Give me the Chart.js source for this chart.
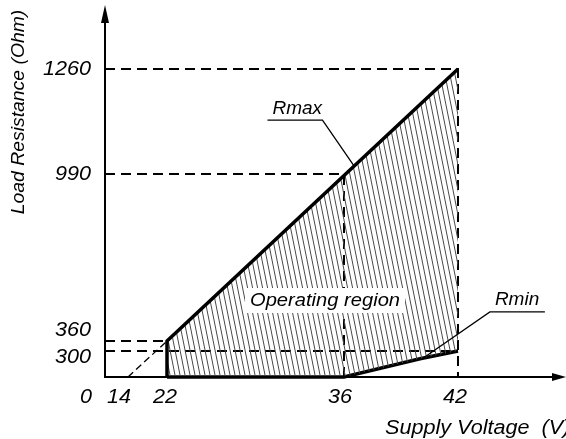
<!DOCTYPE html>
<html>
<head>
<meta charset="utf-8">
<script src="https://cdn.jsdelivr.net/npm/chart.js@4/dist/chart.umd.min.js"></script>
<style>
  html, body { margin: 0; background: #fff; }
  canvas { display: block; }
</style>
</head>
<body>
<canvas id="chart" width="566" height="439"></canvas>
<script>
"use strict";

/* supply voltage (V) vs load resistance (Ohm) */
const rmaxVolt = [22, 22, 42];
const rmaxOhm  = [0, 360, 1260];
const rminVolt = [22, 36, 40, 42];
const rminOhm  = [0, 0, 210, 300];

// dashed guides
const g1260Volt = [0, 42, 42];
const g1260Ohm  = [1260, 1260, 0];
const g990Volt  = [0, 36, 36];
const g990Ohm   = [990, 990, 0];
const g360Volt  = [0, 22];
const g360Ohm   = [360, 360];
const g300Volt  = [0, 42];
const g300Ohm   = [300, 300];
const extVolt   = [14, 22];   // Rmax extended back to the axis
const extOhm    = [0, 360];

const voltTicks = [0, 14, 22, 36, 42];
const ohmTicks  = [300, 360, 990, 1260];

const FONT = '"Liberation Sans", Arial, sans-serif';

const pts = (xs, ys) => xs.map((x, i) => ({ x, y: ys[i] }));

/* the drawing is not to scale: a linear scale bent at a few knots */
class PiecewiseScale extends Chart.LinearScale {
  static id = "piecewise";
  static defaults = Chart.LinearScale.defaults;
  getPixelForValue(v) {
    const { at, pos } = this.options.knots;
    let f = pos[0];
    if (v >= at[at.length - 1]) f = pos[pos.length - 1];
    else if (v > at[0]) {
      let i = 1;
      while (v > at[i]) i++;
      f = pos[i - 1] + (pos[i] - pos[i - 1]) * (v - at[i - 1]) / (at[i] - at[i - 1]);
    }
    return this.getPixelForDecimal(f);
  }
  getValueForPixel(px) {
    const { at, pos } = this.options.knots;
    const f = this.getDecimalForPixel(px);
    let i = 1;
    while (i < pos.length - 1 && f > pos[i]) i++;
    return at[i - 1] + (at[i] - at[i - 1]) * (f - pos[i - 1]) / (pos[i] - pos[i - 1]);
  }
}
Chart.register(PiecewiseScale);

function hatch() {
  const c = document.createElement("canvas");
  c.width = 5; c.height = 25;
  const g = c.getContext("2d");
  g.strokeStyle = "#4a4a4a";
  g.lineWidth = 1;
  g.beginPath();
  [-5, 0, 5].forEach((o) => { g.moveTo(o, 0); g.lineTo(o + 5, 25); });
  g.stroke();
  return g.createPattern(c, "repeat");
}

function guide(xs, ys, width, dash) {
  return {
    data: pts(xs, ys), borderColor: "#000", borderWidth: width,
    borderDash: dash, pointRadius: 0, fill: false, tension: 0, clip: false,
  };
}

// the lettering in the drawing is a touch wider than Liberation Sans
function label(ctx, str, x, y, align, size, stretch = 1.06) {
  ctx.save();
  ctx.font = `italic ${size}px ${FONT}`;
  ctx.textAlign = align;
  ctx.textBaseline = "middle";
  ctx.translate(x, y);
  ctx.scale(stretch, 1);
  ctx.fillText(str, 0, 0);
  ctx.restore();
}

function leader(ctx, ax, ay, ux1, ux2, uy) {
  ctx.beginPath();
  ctx.moveTo(ux1, uy); ctx.lineTo(ux2, uy);
  ctx.lineTo(ax, ay);
  ctx.stroke();
}

const overlay = {
  id: "overlay",
  afterDatasetsDraw(chart) {
    const { ctx, chartArea: a, scales: { x, y } } = chart;
    ctx.save();
    ctx.fillStyle = "#000";
    ctx.strokeStyle = "#000";

    // axes with arrowheads
    ctx.lineWidth = 2;
    ctx.beginPath();
    ctx.moveTo(a.left, a.top + 14);
    ctx.lineTo(a.left, a.bottom);
    ctx.lineTo(a.right - 12, a.bottom);
    ctx.stroke();
    ctx.beginPath();
    ctx.moveTo(a.left, a.top - 1);
    ctx.lineTo(a.left - 4, a.top + 17);
    ctx.lineTo(a.left + 4, a.top + 17);
    ctx.closePath();
    ctx.moveTo(a.right, a.bottom);
    ctx.lineTo(a.right - 14, a.bottom - 4);
    ctx.lineTo(a.right - 14, a.bottom + 4);
    ctx.closePath();
    ctx.fill();

    // tick labels
    const yNudge = { 360: -11, 300: 6 };
    ohmTicks.forEach((v) => label(ctx, String(v), a.left - 14, y.getPixelForValue(v) + (yNudge[v] || 0), "right", 20, 1.08));
    const xNudge = { 0: -19, 14: -9, 22: -2, 36: -4, 42: -3 };
    voltTicks.forEach((v) => label(ctx, String(v), x.getPixelForValue(v) + (xNudge[v] || 0), a.bottom + 20, "center", 20, 1.08));

    // axis titles
    label(ctx, "Supply Voltage  (V)", 385, a.bottom + 51, "left", 20, 1.08);
    ctx.save();
    ctx.translate(19, 112);
    ctx.rotate(-Math.PI / 2);
    label(ctx, "Load Resistance (Ohm)", 0, 0, "center", 19, 1.02);
    ctx.restore();

    // region label on a white patch
    const ox = x.getPixelForValue(34.5), oy = y.getPixelForValue(511);
    ctx.fillStyle = "#fff";
    ctx.fillRect(ox - 80, oy - 13, 160, 25);
    ctx.fillStyle = "#000";
    label(ctx, "Operating region", ox, oy, "center", 19);

    // callouts
    ctx.lineWidth = 1.3;
    const mx = x.getPixelForValue(36.5), my = y.getPixelForValue(1013);
    leader(ctx, mx, my, mx - 86, mx - 31, my - 45);
    label(ctx, "Rmax", mx - 81, my - 56, "left", 19, 1);
    const nx = x.getPixelForValue(40.1), ny = y.getPixelForValue(208);
    leader(ctx, nx, ny, nx + 123, nx + 68, ny - 47);
    label(ctx, "Rmin", nx + 73, ny - 59, "left", 19, 1);

    ctx.restore();
  },
};

new Chart(document.getElementById("chart"), {
  type: "line",
  data: {
    datasets: [
      {
        data: pts(rmaxVolt, rmaxOhm), borderColor: "#000", borderWidth: 3.5,
        backgroundColor: hatch(), fill: "+1", pointRadius: 0, tension: 0,
        borderJoinStyle: "miter", clip: false,
      },
      {
        data: pts(rminVolt, rminOhm), borderColor: "#000", borderWidth: 3.5,
        pointRadius: 0, fill: false, tension: 0, clip: false,
      },
      guide(g1260Volt, g1260Ohm, 2, [10, 6]),
      guide(g990Volt, g990Ohm, 2, [10, 6]),
      guide(g360Volt, g360Ohm, 2, [10, 6]),
      guide(g300Volt, g300Ohm, 2, [10, 6]),
      guide(extVolt, extOhm, 1.3, [7, 4]),
    ],
  },
  options: {
    responsive: false,
    devicePixelRatio: 1,
    animation: false,
    layout: { padding: { left: 105, top: 6, right: 0, bottom: 62 } },
    plugins: { legend: { display: false }, tooltip: { enabled: false } },
    scales: {
      x: {
        type: "piecewise", display: false, min: 0, max: 47.7,
        knots: { at: [0, 14, 22, 36, 42, 47.7], pos: [0, 0.0499, 0.1345, 0.5184, 0.7657, 1] },
      },
      y: {
        type: "piecewise", display: false, min: 0, max: 1420,
        knots: { at: [0, 300, 360, 990, 1260, 1420], pos: [0, 0.0701, 0.0970, 0.5472, 0.8302, 1] },
      },
    },
  },
  plugins: [overlay],
});
</script>
</body>
</html>
